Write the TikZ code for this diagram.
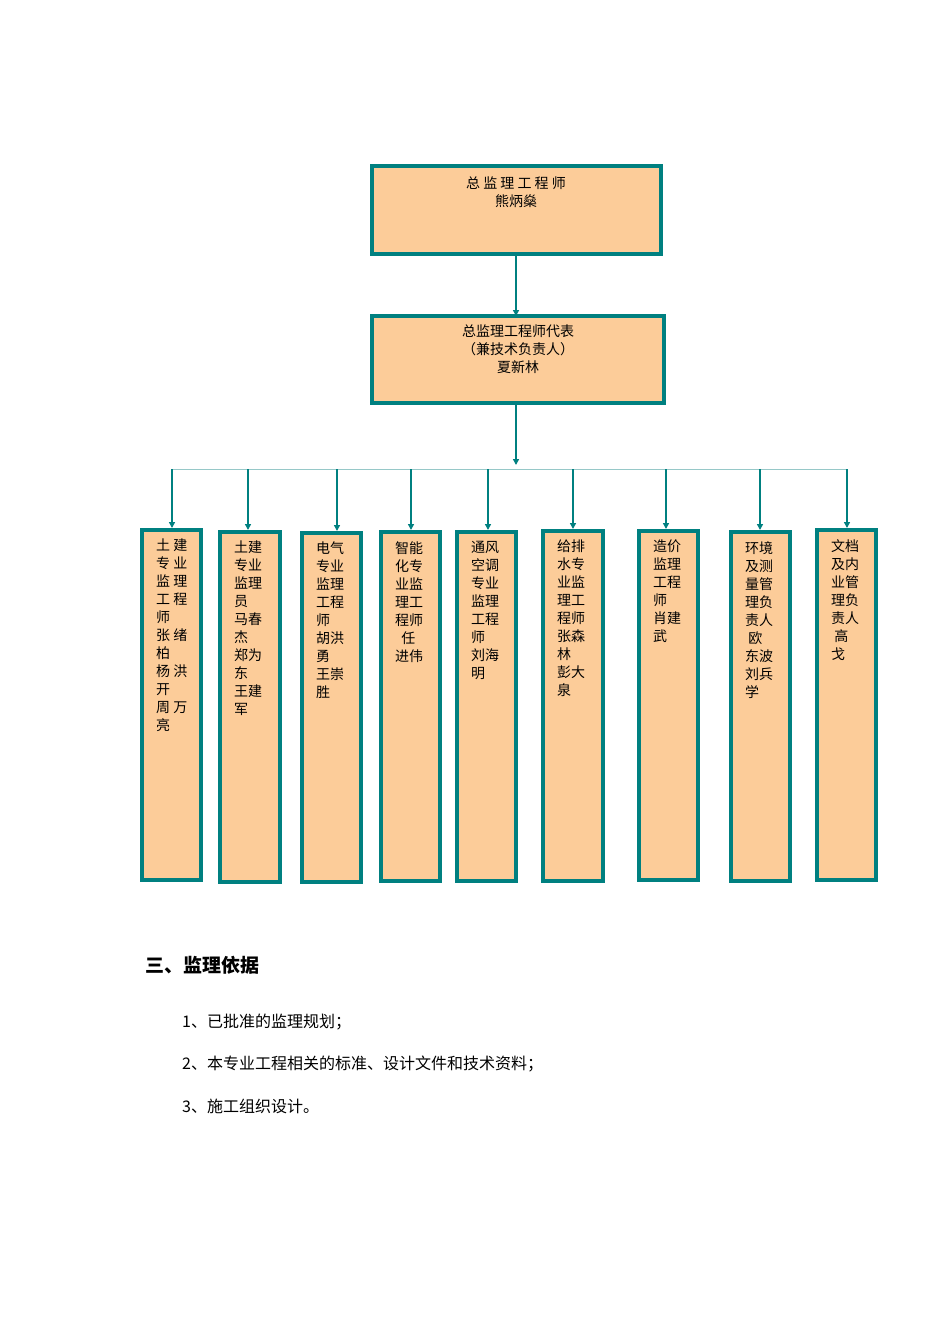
\documentclass[tikz,border=0pt]{standalone}
\usepackage{fontspec}
\setmainfont{Noto Sans CJK SC}
\usetikzlibrary{arrows.meta}
\definecolor{tealb}{RGB}{0,128,128}
\definecolor{peach}{RGB}{252,204,153}
\definecolor{thinl}{RGB}{150,200,200}
\begin{document}
\begin{tikzpicture}[x=1pt,y=-1pt,
  box/.style={draw=tealb,line width=3.5pt,fill=peach},
  arr/.style={draw=tealb,line width=1.5pt,-{Triangle[length=6pt,width=6pt]}},
  tx/.style={anchor=north west,align=left,font=\fontsize{14}{18}\selectfont,inner sep=0pt}]
\useasboundingbox (0,0) rectangle (950,1344);
\fill[white] (0,0) rectangle (950,1344);
\draw[box] (372,166) rectangle (661,254);
\node (t1) [font=\fontsize{14}{18}\selectfont,align=center] at (516,192) {总\ 监\ 理\ 工\ 程\ 师\\熊炳燊};
\coordinate (b1) at (516,254);
\draw[box] (372,316) rectangle (664,403);
\node (t2) [font=\fontsize{14}{18}\selectfont,align=center] at (518,349) {总监理工程师代表\\（兼技术负责人）\\夏新林};
\coordinate (a2) at (516,316);
\coordinate (b2) at (516,403);
\coordinate (h) at (516,465);
\draw[arr] (b1) -- (a2);
\draw[arr] (b2) -- (h);
\draw[thinl,line width=0.8pt] (172,469) -- (847,469);
\foreach \ax/\l/\r/\t/\b/\txt in {
 172/142/201/530/880/{土\ 建\\专\ 业\\监\ 理\\工\ 程\\师\\张\ 绪\\柏\\杨\ 洪\\开\\周\ 万\\亮},
 248/220/280/532/882/{土建\\专业\\监理\\员\\马春\\杰\\郑为\\东\\王建\\军},
 337/302/361/533/882/{电气\\专业\\监理\\工程\\师\\胡洪\\勇\\王崇\\胜},
 411/381/440/532/881/{智能\\化专\\业监\\理工\\程师\\\ \ 任\\进伟},
 488/457/516/532/881/{通风\\空调\\专业\\监理\\工程\\师\\刘海\\明},
 573/543/603/531/881/{给排\\水专\\业监\\理工\\程师\\张森\\林\\彭大\\泉},
 666/639/698/531/880/{造价\\监理\\工程\\师\\肖建\\武},
 760/731/790/532/881/{环境\\及测\\量管\\理负\\责人\\\ 欧\\东波\\刘兵\\学},
 847/817/876/530/880/{文档\\及内\\业管\\理负\\责人\\\ 高\\戈}}{
  \draw[box] (\l,\t) rectangle (\r,\b);
  \node[tx] at (\l+14,\t+9) {\txt};
  \draw[arr] (\ax,469) -- (\ax,\t-2);
}
\node (s) [anchor=west,font=\bfseries\fontsize{19}{22}\selectfont,inner sep=0pt] at (145,965) {三、监理依据};
\node (i1) [anchor=west,font=\fontsize{16}{20}\selectfont,inner sep=0pt] at (182,1022) {1、已批准的监理规划；};
\node (i2) [anchor=west,font=\fontsize{16}{20}\selectfont,inner sep=0pt] at (182,1064) {2、本专业工程相关的标准、设计文件和技术资料；};
\node (i3) [anchor=west,font=\fontsize{16}{20}\selectfont,inner sep=0pt] at (182,1106) {3、施工组织设计。};
\end{tikzpicture}
\end{document}
